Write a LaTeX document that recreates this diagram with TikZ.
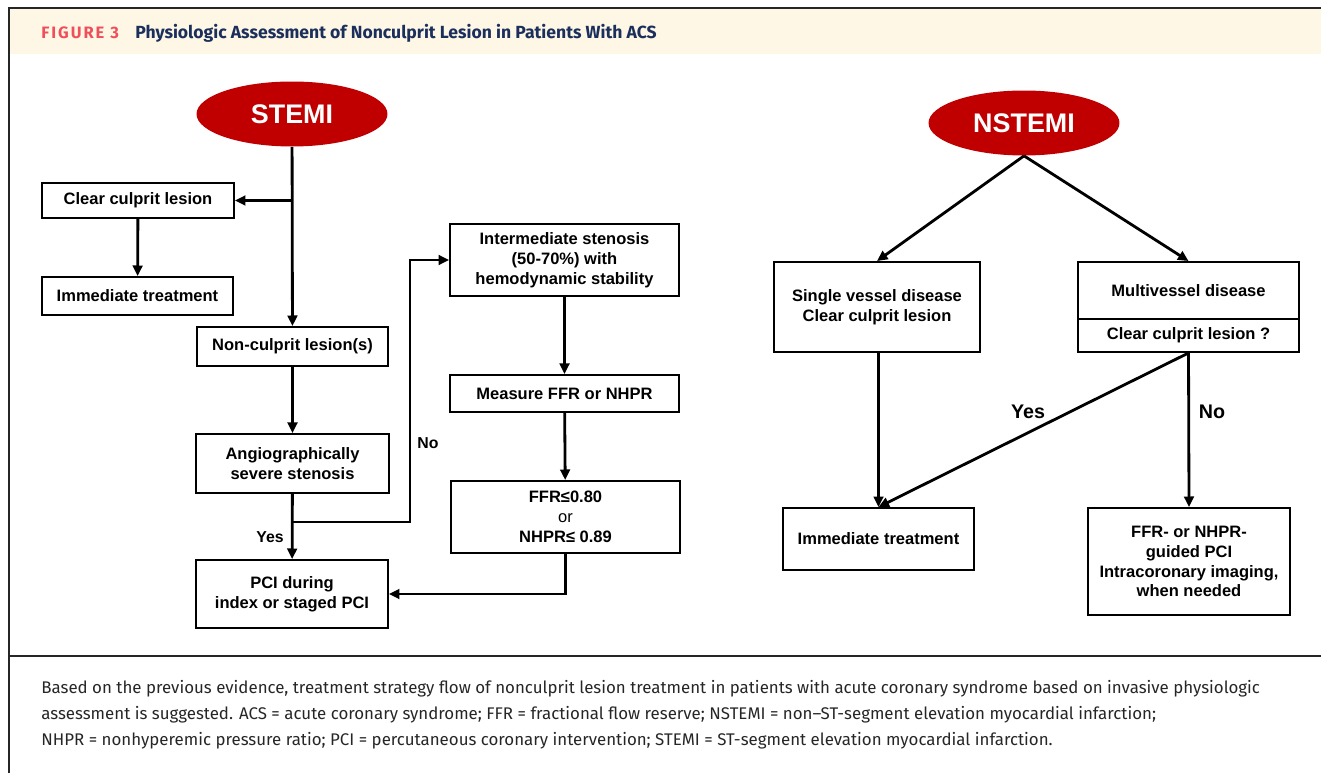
\documentclass[tikz,border=0pt]{standalone}
\usepackage{fontspec}
\setmainfont{Liberation Sans}
\newfontfamily\capfont{Fira Sans}
\newfontfamily\headfont{Fira Sans}
\newfontfamily\figfont[LetterSpace=12]{Fira Sans}
\usetikzlibrary{positioning, shapes.geometric, arrows.meta}
\definecolor{acsred}{HTML}{C00000}
\definecolor{headpink}{HTML}{F04E5A}
\definecolor{headnavy}{HTML}{1B2F5C}
\definecolor{headcream}{HTML}{FEF7E5}
\tikzset{
box/.style={draw, rectangle, line width=1.1pt, align=center, inner sep=0pt, font=\bfseries\fontsize{9.4}{11.3}\selectfont},
oval/.style={ellipse, fill=acsred, text=white, inner sep=0pt, minimum width=3.82cm, minimum height=1.3cm, font=\bfseries\fontsize{15.3}{18}\selectfont},
flow/.style={line width=1.6pt, -{Triangle[length=6pt, width=5.5pt]}},
lbl/.style={inner sep=0pt, font=\bfseries\fontsize{9}{11}\selectfont},
biglbl/.style={inner sep=0pt, font=\bfseries\fontsize{11.2}{13}\selectfont},
capline/.style={anchor=base west, inner sep=0pt, text=black!85, font=\capfont\fontsize{9.6}{12}\selectfont},
}

\begin{document}
\begin{tikzpicture}[x=0.02cm, y=-0.02cm]
    \useasboundingbox (0,0) rectangle (1321,773);

    %frame and heading
    \fill[headcream] (10,9) rectangle (1321,54);
    \draw[line width=1.2pt, black!85] (9,773) -- (9,8) -- (1321,8);
    \draw[line width=1.2pt, black!85] (9,656) -- (1321,656);
    \node[anchor=base west, inner sep=0pt, text=headpink, font=\figfont\bfseries\fontsize{9.4}{11}\selectfont] (fignum) at (41,39) {FIGURE 3};
    \node[anchor=base west, inner sep=0pt, text=headnavy, font=\headfont\bfseries\fontsize{10}{12}\selectfont] (title) at (135,39) {Physiologic Assessment of Nonculprit Lesion in Patients With ACS};

    %STEMI side
    \node[oval] (stemi) at (292,114) {STEMI};
    \node[box, minimum width=3.84cm, minimum height=0.70cm] (clear) at (138,200.5) {Clear culprit lesion};
    \node[box, minimum width=3.82cm, minimum height=0.76cm] (immed) at (137.5,296) {Immediate treatment};
    \node[box, minimum width=3.82cm, minimum height=0.78cm] (noncul) at (292.5,346.5) {Non-culprit lesion(s)};
    \node[box, minimum width=3.86cm, minimum height=1.18cm] (angio) at (292.5,463.5) {Angiographically\\severe stenosis};
    \node[box, minimum width=3.84cm, minimum height=1.36cm] (pci) at (292,594) {PCI during\\index or staged PCI};
    \node[box, minimum width=4.58cm, minimum height=1.44cm] (inter) at (564.5,260) {Intermediate stenosis\\(50-70\%) with\\hemodynamic stability};
    \node[box, minimum width=4.58cm, minimum height=0.74cm] (measure) at (564.5,393.5) {Measure FFR or NHPR};
    \node[box, minimum width=4.58cm, minimum height=1.44cm] (ffr) at (565.5,517) {FFR≤0.80\\{\mdseries or}\\NHPR≤ 0.89};

    \coordinate (split) at (292,522);
    \coordinate (bend) at (410,522);

    \draw[flow] (stemi) -- (noncul);
    \draw[flow] (stemi.south |- clear.east) -- (clear.east);
    \draw[flow] (clear) -- (immed);
    \draw[flow] (noncul) -- (angio);
    \draw[flow] (angio) -- (pci);
    \draw[flow] (split) -- (bend) |- (inter.west);
    \draw[flow] (inter) -- (measure);
    \draw[flow] (measure) -- (ffr);
    \draw[flow] (ffr.south) |- (pci.east);

    \node[lbl] (yesa) at (270,537) {Yes};
    \node[lbl] (noa) at (428,443) {No};

    %NSTEMI side
    \node[oval] (nstemi) at (1024,123) {NSTEMI};
    \node[box, minimum width=4.12cm, minimum height=1.80cm] (single) at (877,307) {Single vessel disease\\Clear culprit lesion};
    \node[box, minimum width=4.42cm, minimum height=1.14cm] (multi) at (1188.5,290.5) {Multivessel disease};
    \node[box, minimum width=4.42cm, minimum height=0.66cm] (clearq) at (1188.5,335.5) {Clear culprit lesion ?};
    \node[box, minimum width=3.82cm, minimum height=1.24cm] (immedr) at (878.5,539) {Immediate treatment};
    \node[box, minimum width=4.04cm, minimum height=2.14cm] (guided) at (1189,561.5) {FFR- or NHPR-\\guided PCI\\Intracoronary imaging,\\when needed};

    \draw[flow] (nstemi.south) -- (single.north);
    \draw[flow] (nstemi.south) -- (multi.north);
    \draw[flow] (single.south -| immedr.north) -- (immedr.north);
    \draw[flow] (clearq.south) -- (immedr.north);
    \draw[flow] (clearq.south) -- (guided.north);

    \node[biglbl] (yesb) at (1028,412) {Yes};
    \node[biglbl] (nob) at (1212,412) {No};

    %caption
    \node[capline] (cap1) at (41,693) {Based on the previous evidence, treatment strategy flow of nonculprit lesion treatment in patients with acute coronary syndrome based on invasive physiologic};
    \node[capline] (cap2) at (41,719) {assessment is suggested. ACS = acute coronary syndrome; FFR = fractional flow reserve; NSTEMI = non–ST-segment elevation myocardial infarction;};
    \node[capline] (cap3) at (41,745) {NHPR = nonhyperemic pressure ratio; PCI = percutaneous coronary intervention; STEMI = ST-segment elevation myocardial infarction.};
\end{tikzpicture}
\end{document}
